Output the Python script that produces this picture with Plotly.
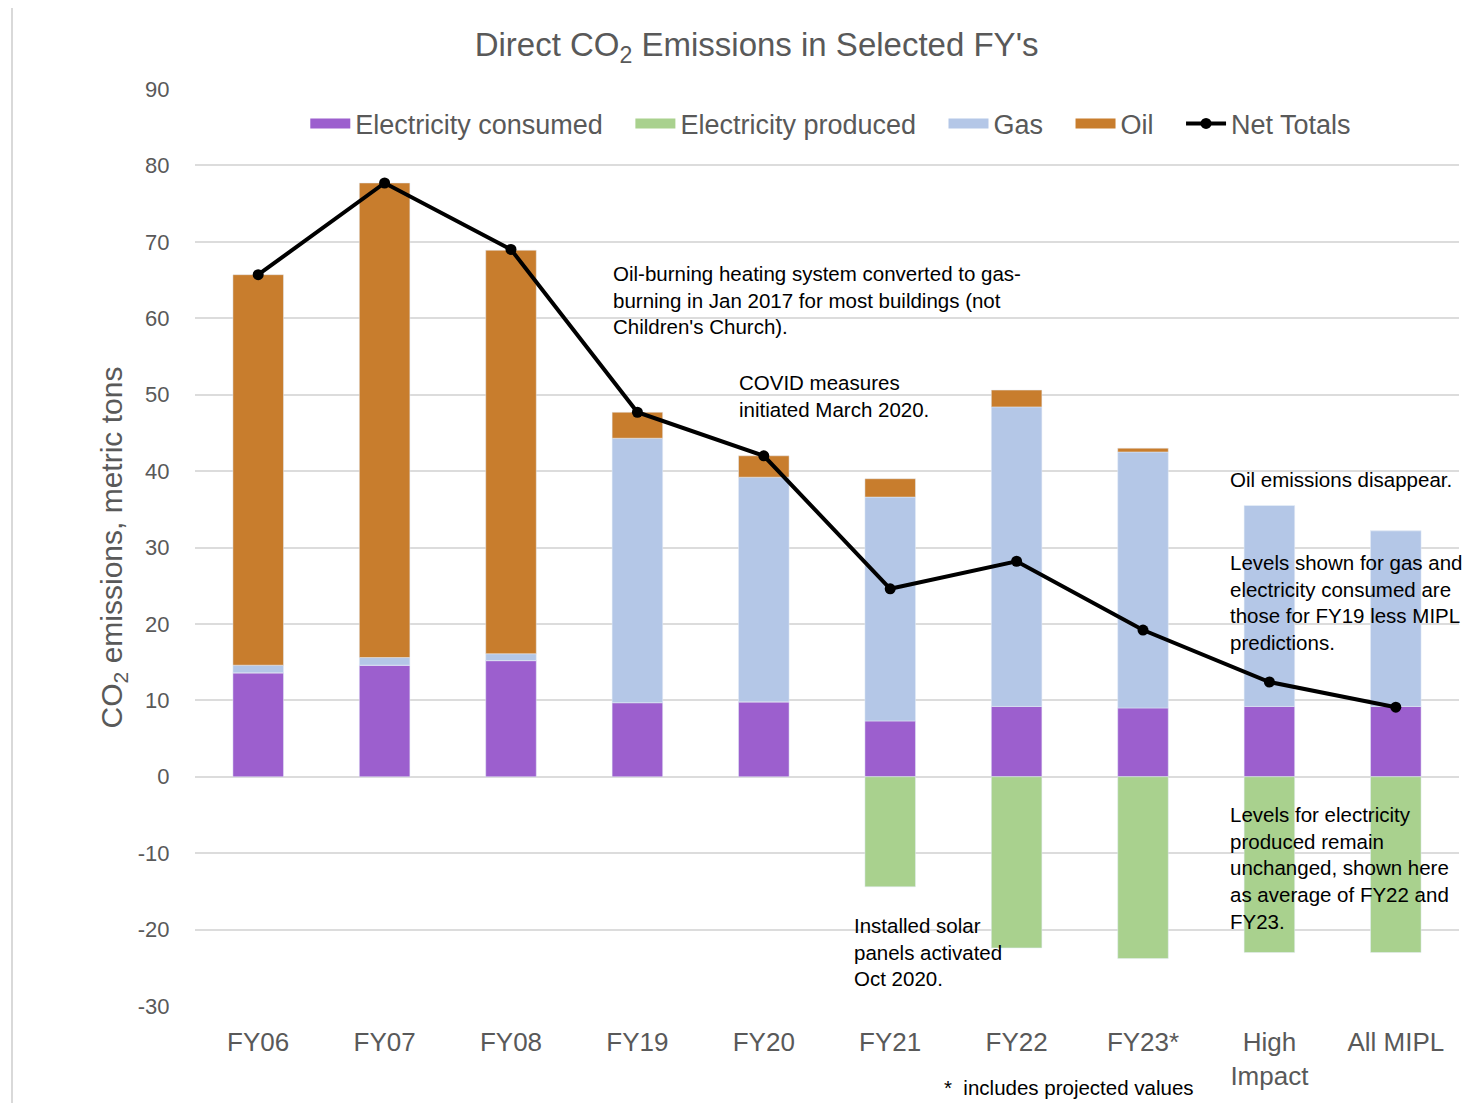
import plotly.graph_objects as go

categories = ["FY06", "FY07", "FY08", "FY19", "FY20", "FY21", "FY22", "FY23*", "High<br>Impact", "All MIPL"]
elec_consumed = [13.6, 14.6, 15.2, 9.7, 9.8, 7.3, 9.2, 9.0, 9.2, 9.2]
elec_produced = [0, 0, 0, 0, 0, -14.4, -22.4, -23.8, -23.0, -23.0]
gas = [1.0, 1.0, 0.9, 34.6, 29.4, 29.3, 39.2, 33.5, 26.3, 23.0]
oil = [51.1, 62.1, 52.8, 3.4, 2.8, 2.4, 2.2, 0.5, 0, 0]
net_totals = [65.7, 77.7, 69.0, 47.7, 42.0, 24.6, 28.2, 19.2, 12.4, 9.1]
y_tick_vals = [-30, -20, -10, 0, 10, 20, 30, 40, 50, 60, 70, 80, 90]
y_tick_labels = ["-30", "-20", "-10", "0", "10", "20", "30", "40", "50", "60", "70", "80", "90"]

FONT = "Liberation Sans, Arial, sans-serif"
GREY = "#595959"
PAD = "\u00a0\u00a0\u00a0"
series = [
    ("Electricity consumed", elec_consumed, "#9c5fce"),
    ("Electricity produced", elec_produced, "#a9d18e"),
    ("Gas", gas, "#b4c7e7"),
    ("Oil", oil, "#c87d2d"),
]

fig = go.Figure()
for name, vals, col in series:
    fig.add_trace(go.Bar(name=name, x=categories, y=vals, marker_color=col,
                         legendgroup=name, showlegend=False))
for name, vals, col in series:
    # legend-only entry with a wide rectangular swatch
    fig.add_trace(go.Scatter(name=name + PAD, x=[None], y=[None], mode="lines",
                             line=dict(color=col, width=16), legendgroup=name, showlegend=True))
fig.add_trace(go.Scatter(name="Net Totals", x=categories, y=net_totals, mode="lines+markers",
                         line=dict(color="black", width=4), marker=dict(color="black", size=11)))

# page body has an 8px margin; plot area spans px 195..1459 x 89..1006 in the window
fig.update_layout(
    width=1462, height=1095,
    margin=dict(l=187, r=11, t=81, b=97),
    barmode="relative", bargap=0.6,
    paper_bgcolor="white", plot_bgcolor="white",
    font=dict(family=FONT, color=GREY),
    title=dict(text="Direct CO<sub>2</sub> Emissions in Selected FY's", x=0.512, xanchor="center",
               y=0.967, yanchor="middle", font=dict(size=33, color=GREY, family=FONT)),
    legend=dict(orientation="h", x=0.503, xanchor="center", y=0.962, yanchor="middle",
                font=dict(size=27, color=GREY), bgcolor="rgba(0,0,0,0)", traceorder="normal",
                itemwidth=40),
    showlegend=True,
)
fig.update_xaxes(range=[-0.5, len(categories) - 0.5], tickfont=dict(size=26, color=GREY),
                 showgrid=False, showline=False, ticks="", ticklabelstandoff=18)
fig.update_yaxes(range=[-30, 90], tickvals=y_tick_vals, ticktext=y_tick_labels,
                 tickfont=dict(size=22, color=GREY),
                 gridcolor="#dcdcdc", gridwidth=1.5, zeroline=True, zerolinecolor="#dcdcdc", zerolinewidth=1.5,
                 showline=False, ticks="outside", ticklen=20, tickcolor="rgba(0,0,0,0)",
                 title=dict(text="CO<sub>2</sub> emissions, metric tons", font=dict(size=30, color=GREY), standoff=6))

ann_font = dict(size=20.5, color="black", family=FONT)
notes = [
    ("Oil-burning heating system converted to gas-<br>burning in Jan 2017 for most buildings (not<br>Children's Church).", 611, 260),
    ("COVID measures<br>initiated March 2020.", 737, 369),
    ("Oil emissions disappear.", 1228, 466),
    ("Levels shown for gas and<br>electricity consumed are<br>those for FY19 less MIPL<br>predictions.", 1228, 549),
    ("Levels for electricity<br>produced remain<br>unchanged, shown here<br>as average of FY22 and<br>FY23.", 1228, 801),
    ("Installed solar<br>panels activated<br>Oct 2020.", 852, 912),
    ("*  includes projected values", 942, 1074),
]
for text, px, py in notes:
    fig.add_annotation(text=text, xref="paper", yref="paper",
                       x=(px - 195) / 1264, y=(1006 - py) / 917,
                       xanchor="left", yanchor="top", align="left", showarrow=False,
                       font=ann_font)

# light frame on the left of the chart area
fig.add_shape(type="line", xref="paper", yref="paper", x0=(12 - 195) / 1264, x1=(12 - 195) / 1264,
              y0=(1006 - 1111) / 917, y1=(1006 - 8) / 917, line=dict(color="#d9d9d9", width=2))

fig.write_html("out.html")
